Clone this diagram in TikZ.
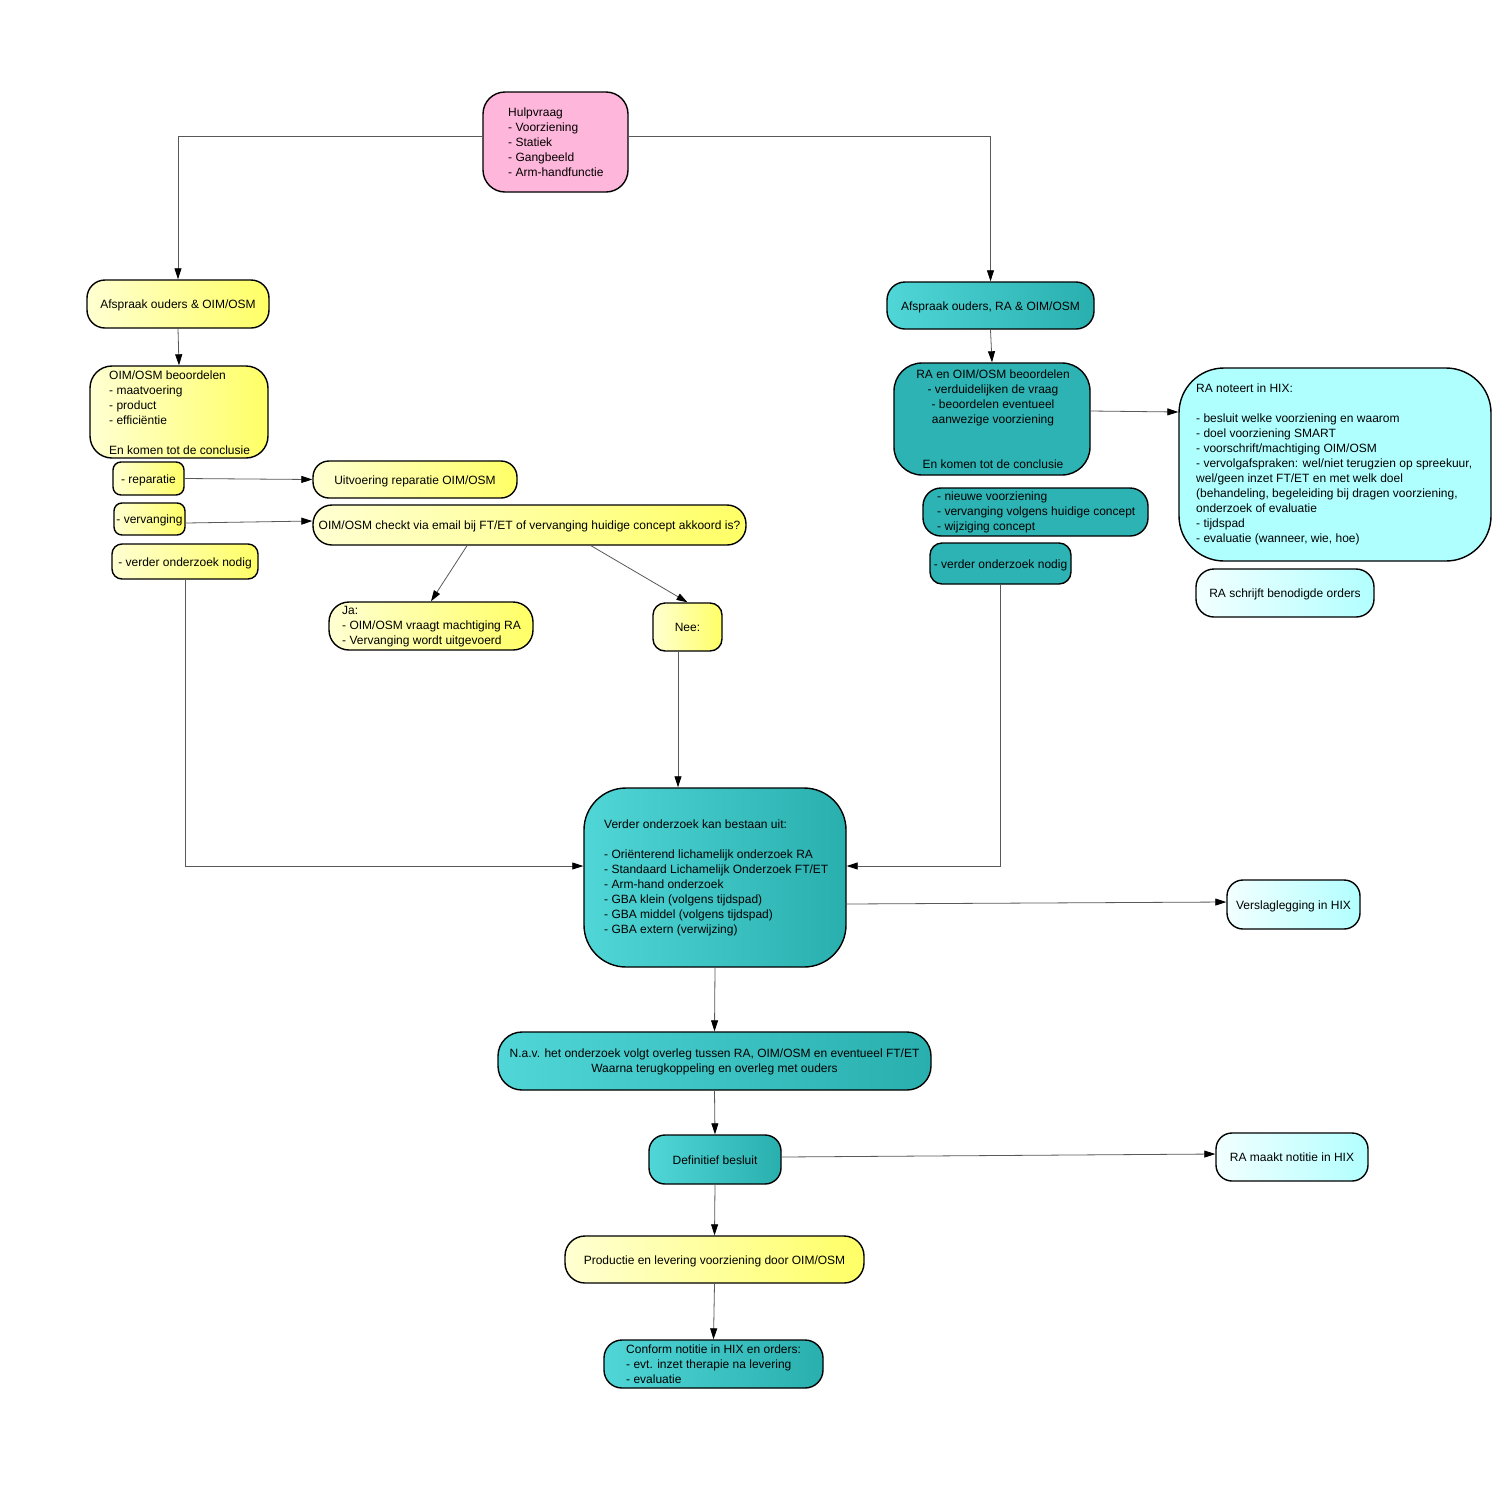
\documentclass[tikz,border=0pt]{standalone}
\usepackage{fontspec}
\setmainfont{Liberation Sans}
\usetikzlibrary{arrows.meta}
\definecolor{ylL}{HTML}{FFFFD2}
\definecolor{ylR}{HTML}{FFFF66}
\definecolor{tlL}{HTML}{50D6D6}
\definecolor{tlR}{HTML}{2AAFAF}
\definecolor{tlS}{HTML}{2DB3B3}
\definecolor{cyL}{HTML}{F2FFFF}
\definecolor{cyR}{HTML}{B2FFFF}
\definecolor{cyS}{HTML}{B0FFFF}
\definecolor{pk}{HTML}{FFB6DB}
\newcommand\fsz{\fontsize{12}{15}\selectfont}
\tikzset{
  box/.style={draw=black, line width=1.4pt, rounded corners=16pt, inner sep=0pt, font=\fsz, align=center},
  one/.style={text height=11pt, text depth=1.5pt},
  yel/.style={box, left color=ylL, right color=ylR},
  tealg/.style={box, left color=tlL, right color=tlR},
  teals/.style={box, fill=tlS},
  cyang/.style={box, left color=cyL, right color=cyR},
  cyans/.style={box, fill=cyS},
  pinkbox/.style={box, fill=pk},
  txt/.style={font=\fsz, align=left, inner sep=0pt, anchor=west},
  arr/.style={draw=black!65, line width=0.8pt, -{Triangle[length=11pt,width=7pt,color=black]}},
}
\begin{document}
\begin{tikzpicture}[x=1pt,y=-1pt]
\useasboundingbox (0,0) rectangle (1500,1500);
\fill[white] (0,0) rectangle (1500,1500);

% top
\node[pinkbox, rounded corners=22pt, minimum width=145pt, minimum height=100pt] (hulp) at (555.5,142) {};
\node[txt] (hulpT) at (508,142.5) {Hulpvraag\\- Voorziening\\- Statiek\\- Gangbeeld\\- Arm-handfunctie};

% left column
\node[yel, one, rounded corners=18pt, minimum width=182pt, minimum height=48pt] (afL) at (178,304) {Afspraak ouders \& OIM/OSM};
\node[yel, rounded corners=22pt, minimum width=178pt, minimum height=92pt] (beoL) at (179,412) {};
\node[txt] (beoLT) at (109,413) {OIM/OSM beoordelen\\- maatvoering\\- product\\- efficiëntie\\[15pt]En komen tot de conclusie};
\node[yel, one, rounded corners=8pt, minimum width=71pt, minimum height=33pt] (rep) at (148.5,478.5) {- reparatie};
\node[yel, one, rounded corners=8pt, minimum width=71pt, minimum height=32pt] (verv) at (149.5,519) {- vervanging};
\node[yel, one, rounded corners=10pt, minimum width=146pt, minimum height=35pt] (vonL) at (185,561.5) {- verder onderzoek nodig};
\node[yel, one, rounded corners=16pt, minimum width=204pt, minimum height=37pt] (uitv) at (415,479.5) {Uitvoering reparatie OIM/OSM};
\node[yel, one, rounded corners=19pt, minimum width=433pt, minimum height=40pt] (check) at (529.5,525) {OIM/OSM checkt via email bij FT/ET of vervanging huidige concept akkoord is?};
\node[yel, rounded corners=20pt, minimum width=204pt, minimum height=48pt] (ja) at (431,626) {};
\node[txt] (jaT) at (342,626.5) {Ja:\\- OIM/OSM vraagt machtiging RA\\- Vervanging wordt uitgevoerd};
\node[yel, one, rounded corners=12pt, minimum width=69pt, minimum height=48pt] (nee) at (687.5,627) {Nee:};

% right column
\node[tealg, one, rounded corners=18pt, minimum width=207pt, minimum height=47pt] (afR) at (990.5,305.5) {Afspraak ouders, RA \& OIM/OSM};
\node[teals, rounded corners=28pt, minimum width=196pt, minimum height=112pt] (beoR) at (992,419) {};
\node[font=\fsz, align=center, inner sep=0pt] (beoRT) at (993,419.5) {RA en OIM/OSM beoordelen\\- verduidelijken de vraag\\- beoordelen eventueel\\aanwezige voorziening\\[30pt]En komen tot de conclusie};
\node[teals, rounded corners=18pt, minimum width=225pt, minimum height=48pt] (nvz) at (1035.5,512) {};
\node[txt] (nvzT) at (937,512.5) {- nieuwe voorziening\\- vervanging volgens huidige concept\\- wijziging concept};
\node[teals, one, rounded corners=12pt, minimum width=141pt, minimum height=41pt] (vonR) at (1000.5,563.5) {- verder onderzoek nodig};
\node[cyans, rounded corners=45pt, minimum width=312pt, minimum height=193pt] (hix) at (1335,464.5) {};
\node[txt] (hixT) at (1196,464.5) {RA noteert in HIX:\\[15pt]- besluit welke voorziening en waarom\\- doel voorziening SMART\\- voorschrift/machtiging OIM/OSM\\- vervolgafspraken: wel/niet terugzien op spreekuur,\\wel/geen inzet FT/ET en met welk doel\\(behandeling, begeleiding bij dragen voorziening,\\onderzoek of evaluatie\\- tijdspad\\- evaluatie (wanneer, wie, hoe)};
\node[cyang, one, rounded corners=18pt, minimum width=178pt, minimum height=48pt] (ord) at (1285,593) {RA schrijft benodigde orders};

% middle
\node[tealg, rounded corners=42pt, minimum width=262pt, minimum height=179pt] (vo) at (715,877.5) {};
\node[txt] (voT) at (604,878) {Verder onderzoek kan bestaan uit:\\[15pt]- Oriënterend lichamelijk onderzoek RA\\- Standaard Lichamelijk Onderzoek FT/ET\\- Arm-hand onderzoek\\- GBA klein (volgens tijdspad)\\- GBA middel (volgens tijdspad)\\- GBA extern (verwijzing)};
\node[cyang, one, rounded corners=16pt, minimum width=133pt, minimum height=49pt] (vsl) at (1293.5,904.5) {Verslaglegging in HIX};
\node[tealg, rounded corners=24pt, minimum width=433pt, minimum height=58pt] (nav) at (714.5,1061) {};
\node[font=\fsz, align=center, inner sep=0pt] (navT) at (714.5,1062) {N.a.v. het onderzoek volgt overleg tussen RA, OIM/OSM en eventueel FT/ET\\Waarna terugkoppeling en overleg met ouders};
\node[tealg, one, rounded corners=16pt, minimum width=132pt, minimum height=49pt] (def) at (715,1159.5) {Definitief besluit};
\node[cyang, one, rounded corners=16pt, minimum width=152pt, minimum height=48pt] (notitie) at (1292,1157) {RA maakt notitie in HIX};
\node[yel, one, rounded corners=20pt, minimum width=299pt, minimum height=47pt] (prod) at (714.5,1259.5) {Productie en levering voorziening door OIM/OSM};
\node[tealg, rounded corners=18pt, minimum width=219pt, minimum height=48pt] (conf) at (713.5,1364) {};
\node[txt] (confT) at (626,1364.5) {Conform notitie in HIX en orders:\\- evt. inzet therapie na levering\\- evaluatie};

% connectors
\draw[arr] ([yshift=6pt]hulp.west) -| (afL.north);
\draw[arr] ([yshift=6pt]hulp.east) -| (afR.north);
\draw[arr] (afL.south) -- (beoL.north);
\draw[arr] (afR.south) -- (beoR.north);
\draw[arr] (rep.east) -- (uitv.west);
\draw[arr] ([yshift=-4pt]verv.east) -- ([yshift=4pt]check.west);
\draw[arr] ([xshift=-62.5pt]check.south) -- (ja.north);
\draw[arr] ([xshift=61.5pt]check.south) -- (nee.north);
\draw[arr] ([xshift=-9.5pt]nee.south) -- ([xshift=-37pt]vo.north);
\draw[arr] (vonL.south) |- ([yshift=11.5pt]vo.west);
\draw[arr] (vonR.south) |- ([yshift=11.5pt]vo.east);
\draw[arr] ([yshift=8pt]beoR.east) -- ([yshift=52.5pt]hix.west);
\draw[arr] ([yshift=-26.5pt]vo.east) -- ([yshift=2.5pt]vsl.west);
\draw[arr] (vo.south) -- (nav.north);
\draw[arr] (nav.south) -- (def.north);
\draw[arr] ([yshift=2.5pt]def.east) -- ([yshift=3pt]notitie.west);
\draw[arr] (def.south) -- (prod.north);
\draw[arr] (prod.south) -- (conf.north);
\end{tikzpicture}
\end{document}
